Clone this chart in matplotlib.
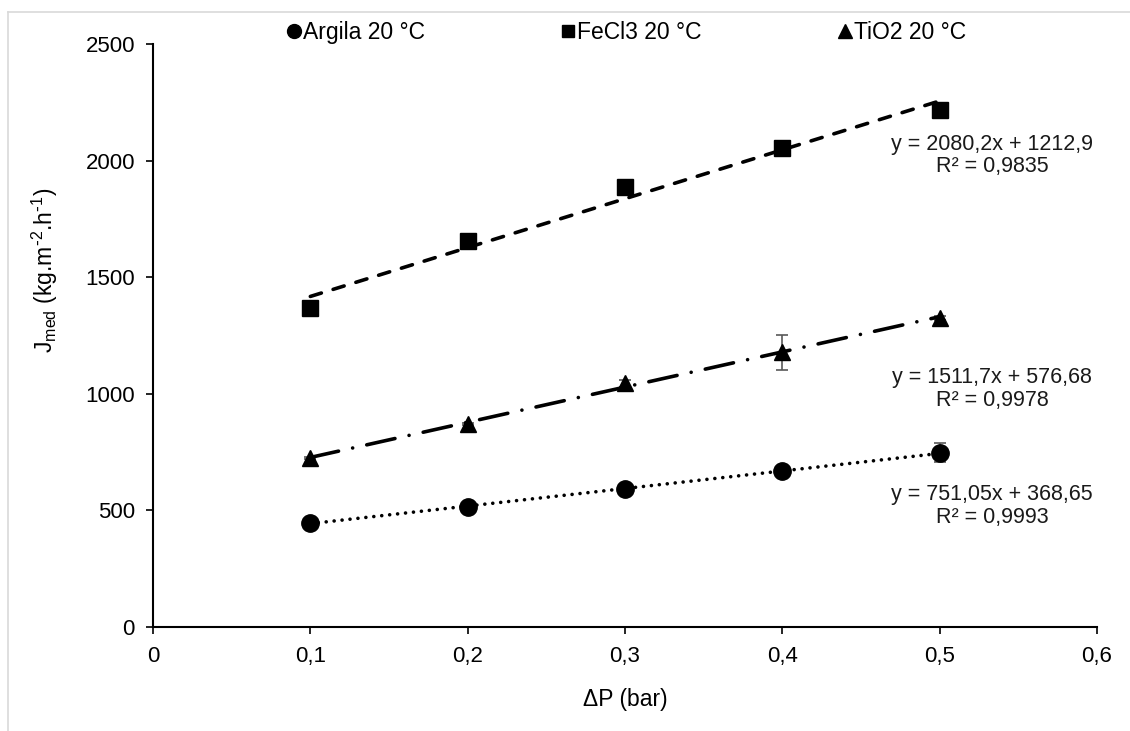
import numpy as np
import matplotlib
matplotlib.use('Agg')
import matplotlib.pyplot as plt
from matplotlib.lines import Line2D
from matplotlib.ticker import FuncFormatter

plt.rcParams['font.family'] = ['Liberation Sans', 'DejaVu Sans']

# data
dp = [0.1, 0.2, 0.3, 0.4, 0.5]
argila = [447, 515, 592, 668, 747]
argila_err = [4, 4, 4, 4, 41]
fecl3 = [1370, 1655, 1885, 2055, 2218]
fecl3_err = [5, 5, 5, 5, 25]
tio2 = [725, 870, 1045, 1179, 1325]
tio2_err = [5, 5, 15, 75, 8]

eq_argila = 'y = 751,05x + 368,65\nR² = 0,9993'
eq_fecl3 = 'y = 2080,2x + 1212,9\nR² = 0,9835'
eq_tio2 = 'y = 1511,7x + 576,68\nR² = 0,9978'

series = [
    ('Argila 20 °C', argila, argila_err, 'o', 12.5, (0, (0.01, 2.2)), eq_argila, 520),
    ('FeCl3 20 °C', fecl3, fecl3_err, 's', 11.5, (0, (3.2, 3.4)), eq_fecl3, 2022),
    ('TiO2 20 °C', tio2, tio2_err, '^', 12, (0, (8, 4, 0.01, 4)), eq_tio2, 1020),
]

fig = plt.figure(figsize=(11.3, 7.31), dpi=100)
ax = fig.add_axes([0.1354, 0.1423, 0.9708 - 0.1354, 0.9398 - 0.1423])

# light grey chart-area border (left and top)
fig.add_artist(Line2D([0.007, 0.007], [0, 0.983], transform=fig.transFigure, color='#d9d9d9', lw=1.2))
fig.add_artist(Line2D([0.007, 1], [0.983, 0.983], transform=fig.transFigure, color='#d9d9d9', lw=1.2))

x = np.array(dp)
handles = []
for name, y, err, mk, ms, ls, eq, ty in series:
    y = np.array(y, dtype=float)
    ax.errorbar(x, y, yerr=err, fmt='none', ecolor='#595959', elinewidth=1.2, capsize=4, capthick=1.2, zorder=2)
    h, = ax.plot(x, y, linestyle='none', marker=mk, markersize=ms, color='black', zorder=3, label=name)
    handles.append(h)
    # linear trendline
    b, a = np.polyfit(x, y, 1)
    ax.plot(x, a + b * x, color='black', lw=2.6, linestyle=ls, dash_capstyle='round', zorder=2.5)
    ax.text(0.5334, ty, eq, ha='center', va='center', multialignment='center', fontsize=15.5,
            color='#1a1a1a', linespacing=1.1)

ax.set_xlim(0, 0.6)
ax.set_ylim(0, 2500)
ax.set_xticks([0, 0.1, 0.2, 0.3, 0.4, 0.5, 0.6])
ax.set_yticks([0, 500, 1000, 1500, 2000, 2500])
ax.xaxis.set_major_formatter(FuncFormatter(lambda v, p: ('%g' % round(v, 1)).replace('.', ',')))
ax.tick_params(axis='both', labelsize=16, length=5, width=1.2, colors='black')
ax.tick_params(axis='x', pad=9)
ax.tick_params(axis='y', pad=8)
for s in ['top', 'right']:
    ax.spines[s].set_visible(False)
for s in ['left', 'bottom']:
    ax.spines[s].set_linewidth(1.5)

ax.set_xlabel('ΔP (bar)', fontsize=16.5)
ax.xaxis.set_label_coords(0.5, -0.105)
ax.set_ylabel('J$_{\\mathregular{med}}$ (kg.m$^{\\mathregular{\\text{-}2}}$.h$^{\\mathregular{\\text{-}1}}$)', fontsize=16.5)
ax.yaxis.set_label_coords(-0.098, 0.612)

fig.legend(handles=handles, loc='center', bbox_to_anchor=(0.555, 0.956), ncol=3, frameon=False,
           fontsize=16.5, handlelength=0.5, handletextpad=0.15, columnspacing=6.0, markerscale=0.8)

fig.savefig('out.png', dpi=100)
